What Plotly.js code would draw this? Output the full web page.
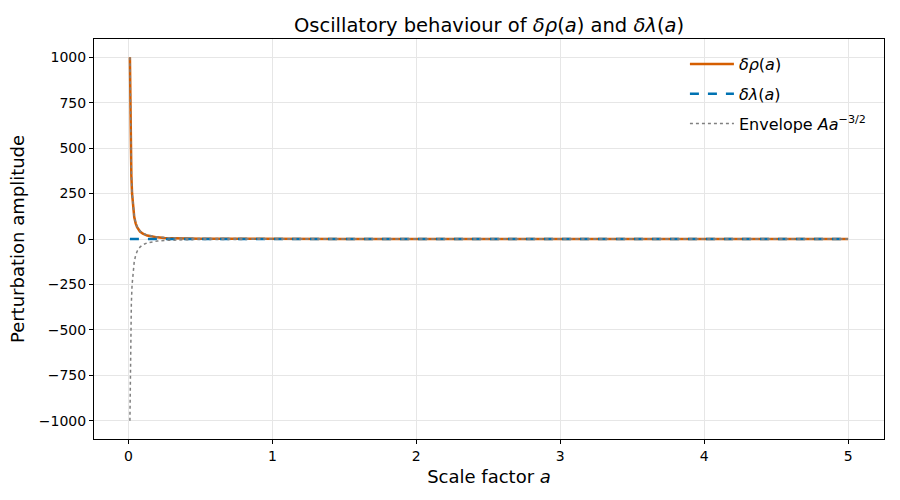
<!DOCTYPE html>
<html><head><meta charset="utf-8">
<script src="https://cdn.plot.ly/plotly-3.0.1.min.js"></script>
<style>body{margin:0;padding:0;background:#fff}#chart{width:900px;height:500px}</style>
</head><body><div id="chart"></div>
<script>
// Scale factor samples
const scaleA = [0.01, 0.012, 0.015, 0.02, 0.025, 0.03, 0.04, 0.05, 0.06, 0.08, 0.1, 0.13, 0.16, 0.2, 0.25, 0.3, 0.4, 0.5, 0.7, 1.0, 1.5, 2.0, 2.5, 3.0, 3.5, 4.0, 4.5, 5.0];
// delta rho(a)
const deltaRho = [1000, 758, 540, 350, 249, 188, 121, 86, 65, 41, 29, 19, 13, 9, 6, 4, 2.5, 1.5, 0.5, -0.3, -0.5, -0.2, 0.1, 0.18, 0.1, -0.05, -0.1, -0.05];
// delta lambda(a) (near zero)
const deltaLambda = [0.5, 0.4, 0.3, 0.2, 0.1, 0.05, 0, -0.05, -0.05, 0, 0.02, 0.02, 0, 0, 0, 0, 0, 0, 0, 0, 0, 0, 0, 0, 0, 0, 0, 0];
// envelope A a^{-3/2}
const envelope = [1000, 761, 544, 354, 253, 192, 125, 89.4, 68, 44.2, 31.6, 21.3, 15.6, 11.2, 8, 6.1, 3.95, 2.83, 1.71, 1, 0.54, 0.35, 0.25, 0.19, 0.15, 0.125, 0.105, 0.089];
const envelopeNeg = envelope.map(v => -v);

const font = "DejaVu Sans, sans-serif";
const traces = [
  {x: scaleA, y: deltaRho, mode: 'lines', name: '<i>δρ</i>(<i>a</i>)', legendgroup: 'g1', line: {color: '#D55E00', width: 2.5}},
  {x: scaleA, y: deltaLambda, mode: 'lines', name: '<i>δλ</i>(<i>a</i>)', legendgroup: 'g2', line: {color: '#0072B2', width: 2.5, dash: 'dash'}},
  {x: scaleA, y: envelope, mode: 'lines', name: 'Envelope <i>Aa</i><sup>−3/2</sup>', legendgroup: 'g3', line: {color: 'gray', width: 1.5, dash: 'dot'}},
  {x: scaleA, y: envelopeNeg, mode: 'lines', name: 'neg', legendgroup: 'g3', showlegend: false, line: {color: 'gray', width: 1.5, dash: 'dot'}}
];
const axisCommon = {
  showline: true, linecolor: 'black', linewidth: 1, mirror: true,
  ticks: 'outside', ticklen: 4, tickcolor: 'black',
  showgrid: true, gridcolor: '#e6e6e6', gridwidth: 1, zeroline: false,
  tickfont: {family: font, size: 14, color: 'black'}
};
const layout = {
  width: 900, height: 500,
  margin: {l: 94, r: 16, t: 39, b: 61},
  paper_bgcolor: 'white', plot_bgcolor: 'white',
  font: {family: font, color: 'black'},
  title: {text: 'Oscillatory behaviour of <i>δρ</i>(<i>a</i>) and <i>δλ</i>(<i>a</i>)', font: {family: font, size: 19.5}, x: 0.5, xref: 'paper', xanchor: 'center', y: 0.95, yref: 'container', yanchor: 'middle'},
  xaxis: Object.assign({}, axisCommon, {range: [-0.2395, 5.2495], tickvals: [0,1,2,3,4,5],
    title: {text: 'Scale factor <i>a</i>', font: {family: font, size: 18}, standoff: 7}}),
  yaxis: Object.assign({}, axisCommon, {range: [-1100, 1100], tickvals: [-1000,-750,-500,-250,0,250,500,750,1000],
    ticktext: ['−1000','−750','−500','−250','0','250','500','750','1000'],
    title: {text: 'Perturbation amplitude', font: {family: font, size: 18}, standoff: 9}}),
  legend: {x: 0.748, y: 0.98, xanchor: 'left', yanchor: 'top', bgcolor: 'rgba(255,255,255,0)',
    font: {family: font, size: 16}, itemwidth: 44, traceorder: 'grouped', tracegroupgap: 6},
  showlegend: true
};
Plotly.newPlot('chart', traces, layout, {displayModeBar: false, staticPlot: true});
</script></body></html>
